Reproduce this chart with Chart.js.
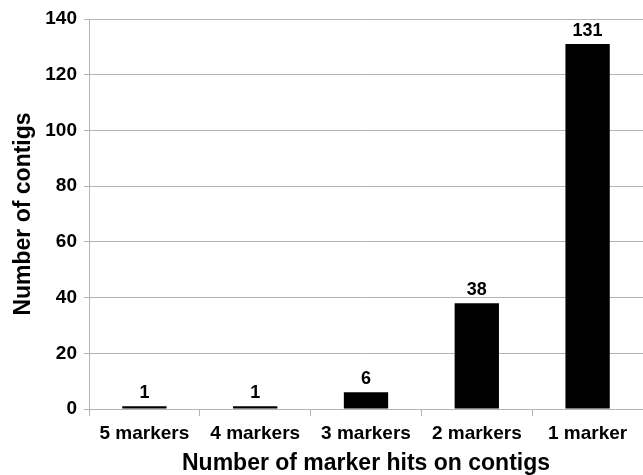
<!DOCTYPE html>
<html>
<head>
<meta charset="utf-8">
<script src="https://cdn.jsdelivr.net/npm/chart.js@4"></script>
<style>
  html, body { margin: 0; padding: 0; background: #fff; }
  #wrap { width: 643px; height: 475px; }
</style>
</head>
<body>
<div id="wrap"><canvas id="contig_hits"></canvas></div>
<script>
const categories = ['5 markers', '4 markers', '3 markers', '2 markers', '1 marker'];
const contigCounts = [1, 1, 6, 38, 131];
const yTicks = [0, 20, 40, 60, 80, 100, 120, 140];

const gridGray = '#b4b4b4';
const fontFamily = '"Liberation Sans", Arial, sans-serif';

// draw the count above each bar
const barLabels = {
    id: 'barLabels',
    afterDatasetsDraw(chart) {
        const ctx = chart.ctx;
        const meta = chart.getDatasetMeta(0);
        ctx.save();
        ctx.font = 'bold 18px ' + fontFamily;
        ctx.fillStyle = '#000';
        ctx.textAlign = 'center';
        ctx.textBaseline = 'alphabetic';
        meta.data.forEach((bar, i) => {
            ctx.fillText(String(contigCounts[i]), bar.x, bar.y - 8);
        });
        ctx.restore();
    }
};

const ctv = document.getElementById('contig_hits');
const contig_hits = new Chart(ctv, {
    type: 'bar',
    data: {
        labels: categories,
        datasets: [{
            label: 'Number of contigs',
            data: contigCounts,
            backgroundColor: '#000',
            borderWidth: 0,
            categoryPercentage: 1.0,
            barPercentage: 0.4
        }]
    },
    options: {
        responsive: true,
        maintainAspectRatio: false,
        animation: false,
        layout: { padding: { top: 19, right: 0, bottom: 0, left: 0 } },
        plugins: {
            legend: { display: false },
            tooltip: { enabled: false }
        },
        scales: {
            x: {
                afterFit(scale) { scale.height = 66; },
                grid: {
                    offset: true,
                    drawOnChartArea: false,
                    drawTicks: true,
                    tickLength: 7,
                    color: gridGray
                },
                border: { display: true, color: gridGray },
                ticks: {
                    color: '#000',
                    padding: 6,
                    font: { family: fontFamily, size: 19, weight: 'bold' }
                },
                title: {
                    display: true,
                    text: 'Number of marker hits on contigs',
                    color: '#000',
                    padding: { top: 0, bottom: 0 },
                    font: { family: fontFamily, size: 23, weight: 'bold', lineHeight: 0.95 }
                }
            },
            y: {
                min: 0,
                max: 140,
                afterFit(scale) { scale.width = 89; },
                afterBuildTicks(scale) {
                    scale.ticks = yTicks.map(v => ({ value: v }));
                },
                grid: {
                    color: gridGray,
                    tickLength: 5,
                    drawTicks: true
                },
                border: { display: true, color: gridGray },
                ticks: {
                    color: '#000',
                    padding: 7,
                    font: { family: fontFamily, size: 19, weight: 'bold' }
                },
                title: {
                    display: true,
                    text: 'Number of contigs',
                    color: '#000',
                    padding: { top: 12, bottom: 0 },
                    font: { family: fontFamily, size: 23, weight: 'bold', lineHeight: 1 }
                }
            }
        }
    },
    plugins: [barLabels]
});
</script>
</body>
</html>
